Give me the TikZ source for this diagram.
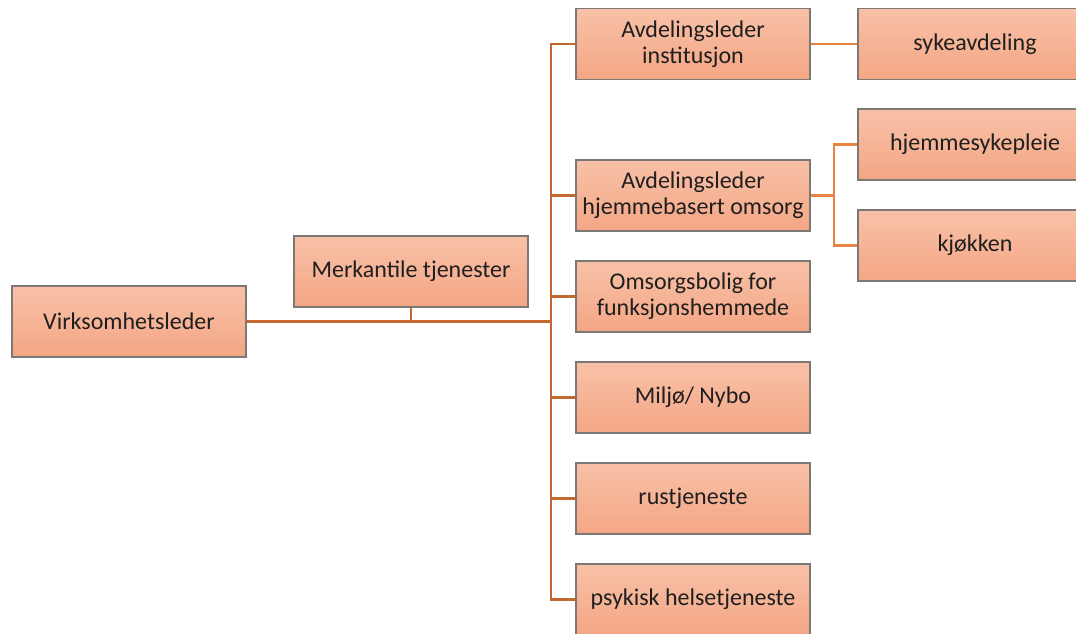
\documentclass[tikz,border=0pt]{standalone}
\usepackage{fontspec}
\setmainfont{Carlito}
\definecolor{boxtop}{RGB}{248,193,168}
\definecolor{boxbot}{RGB}{244,166,132}
\definecolor{boxedge}{RGB}{125,120,118}
\definecolor{lineA}{RGB}{196,104,48}
\definecolor{lineB}{RGB}{232,132,64}
\begin{document}
\begin{tikzpicture}[x=0.75pt,y=-0.75pt,
  box/.style={draw=boxedge, line width=0.9pt, top color=boxtop, bottom color=boxbot,
    minimum width=175.5pt, minimum height=53.25pt, inner sep=2pt, align=center,
    font=\fontsize{18}{19.5}\selectfont, text=black!88},
  mainline/.style={draw=lineA, line width=2.2pt},
  subline/.style={draw=lineB, line width=1.8pt}]
\useasboundingbox (0,0) rectangle (1076,633);
\node[box] (v) at (129,321.5) {Virksomhetsleder};
\node[box] (m) at (411,271.5) {Merkantile tjenester};
\node[box] (a1) at (693,44) {Avdelingsleder\\institusjon};
\node[box] (a2) at (693,195.5) {Avdelingsleder\\hjemmebasert omsorg};
\node[box] (a3) at (693,296.5) {Omsorgsbolig for\\funksjonshemmede};
\node[box] (a4) at (693,397.5) {Miljø/ Nybo};
\node[box] (a5) at (693,498.5) {rustjeneste};
\node[box] (a6) at (693,599.5) {psykisk helsetjeneste};
\node[box] (s1) at (975,44) {sykeavdeling};
\node[box] (s2) at (975,144.5) {hjemmesykepleie};
\node[box] (s3) at (975,245.5) {kjøkken};
\coordinate (bus) at (551,321.5);
\coordinate (sub) at (834,195.5);
\begin{scope}[on background layer/.style={}]
\draw[mainline] (v.east) -- (bus);
\draw[mainline] (m.south) -- (m.south |- bus);
\draw[mainline] (a1.west) -| (bus) |- (a6.west);
\foreach \n in {a2,a3,a4,a5} \draw[mainline] (\n.west) -- (\n.west -| bus);
\draw[subline] (a1.east) -- (s1.west);
\draw[subline] (a2.east) -- (sub);
\draw[subline] (s2.west) -| (sub) |- (s3.west);
\end{scope}
\end{tikzpicture}
\end{document}
